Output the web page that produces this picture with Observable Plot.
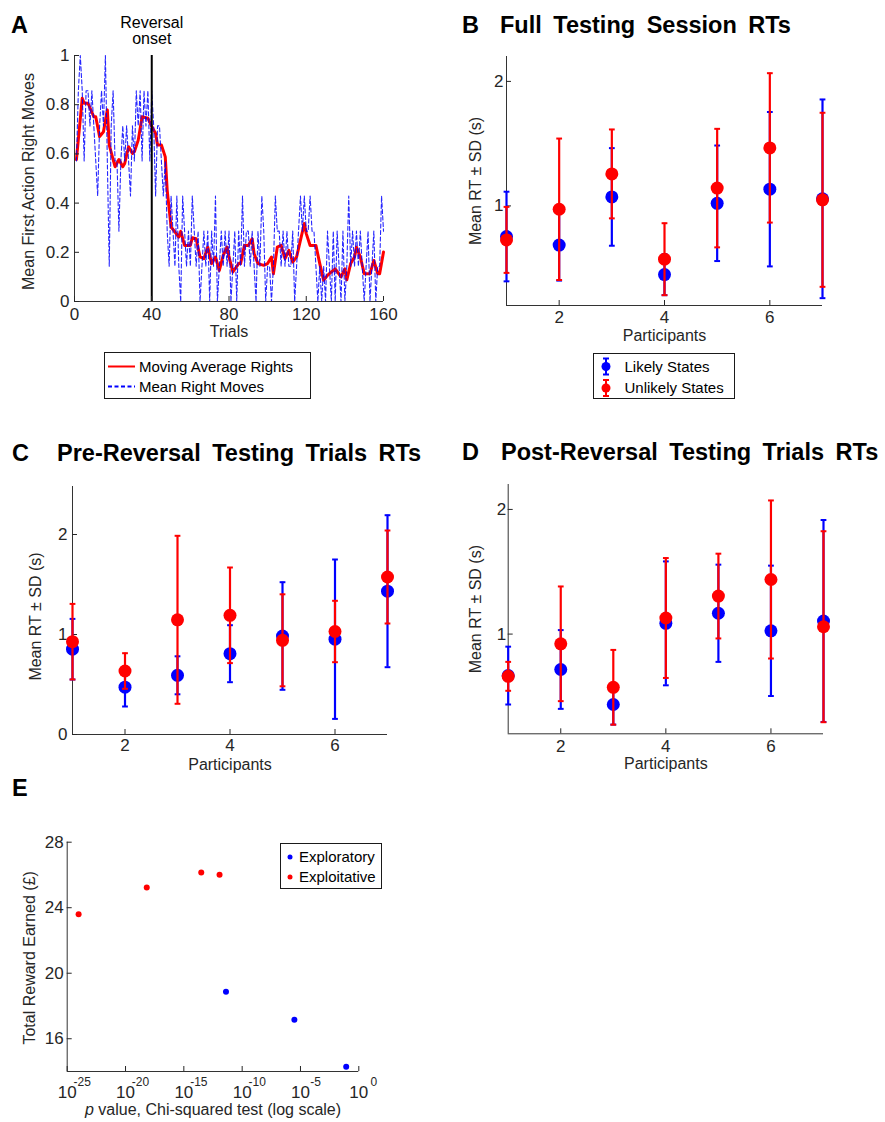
<!DOCTYPE html>
<html>
<head>
<meta charset="utf-8">
<script src="https://cdn.jsdelivr.net/npm/d3@7"></script>
<script src="https://cdn.jsdelivr.net/npm/@observablehq/plot@0.6"></script>
<style>
  html, body { margin: 0; padding: 0; background: #fff; }
  #figure { position: relative; width: 885px; height: 1122px; overflow: hidden;
    font-family: "Liberation Sans", Arial, Helvetica, sans-serif; color: #262626; }
  #figure > svg, #figure > .txt { position: absolute; }
  .txt { line-height: 1; white-space: pre; }
  .head { font-weight: bold; color: #000; word-spacing: 5px; }
</style>
</head>
<body>
<div id="figure"></div>
<script>
// ---------------- Panel A: first-action right moves across trials ----------------
const trialDomain = [0, 160];
const trialTicks = [0, 40, 80, 120, 160];
const rightDomain = [0, 1];
const rightTicks = [0, 0.2, 0.4, 0.6, 0.8, 1];
const reversalTrial = 40;
const reversalLabel = "Reversal\nonset";

// Mean proportion of right first moves on each trial (trials 1..160)
const meanRightMoves = [
  0.571,0.857,1,0.857,0.571,0.857,0.857,0.714,0.857,0.714,
  0.571,0.429,0.714,0.857,0.714,1,0.571,0.143,0.714,0.857,
  0.571,0.571,0.286,0.571,0.714,0.571,0.714,0.571,0.429,0.714,
  0.571,0.857,0.714,0.857,0.571,0.857,0.714,0.857,0.571,0.857,
  0.714,0.429,0.714,0.714,0.571,0.429,0.571,0.286,0.143,0.429,
  0.286,0.143,0.429,0.143,0,0.429,0.286,0.143,0.286,0.143,
  0.429,0.286,0.143,0.286,0,0.143,0.286,0.143,0.286,0,
  0.286,0.143,0.429,0,0.143,0.286,0.143,0.286,0.143,0.286,
  0,0.143,0.286,0,0.286,0.143,0.429,0.143,0.286,0.286,
  0.143,0.286,0.143,0,0.286,0.143,0.429,0.286,0,0.143,
  0.143,0,0.143,0.429,0.286,0.286,0.143,0.286,0.143,0.286,
  0.143,0.143,0.286,0,0.143,0.286,0.429,0.286,0.429,0.286,
  0.286,0.429,0.286,0.286,0.143,0,0.143,0,0.143,0,
  0.286,0.143,0,0.286,0,0.286,0.143,0,0.286,0,
  0.143,0.429,0.143,0.286,0.143,0.286,0.143,0.286,0.143,0,
  0.143,0.286,0,0.143,0.286,0,0.143,0.143,0.429,0.286
];

// Moving average of right moves
const maTrial = [1,4,5,7,10,11,13,15,17,18,21,23,25,26,28,30,31,33,35,38,40,42,43,45,47,48,50,52,54,55,57,60,61,63,65,67,69,71,73,75,77,79,80,82,85,86,88,90,92,93,95,98,100,102,103,105,107,109,111,113,115,116,119,120,122,125,127,129,131,133,135,138,140,141,143,145,146,148,150,153,155,157,158,160];
const maValue = [0.577,0.826,0.806,0.806,0.751,0.751,0.670,0.690,0.779,0.636,0.548,0.577,0.548,0.561,0.629,0.602,0.609,0.656,0.751,0.745,0.711,0.683,0.636,0.636,0.588,0.452,0.303,0.283,0.262,0.285,0.228,0.228,0.259,0.255,0.181,0.174,0.221,0.154,0.181,0.126,0.188,0.221,0.181,0.120,0.154,0.154,0.228,0.228,0.255,0.194,0.154,0.147,0.154,0.181,0.113,0.221,0.228,0.174,0.208,0.160,0.181,0.215,0.317,0.276,0.228,0.228,0.154,0.086,0.106,0.120,0.133,0.100,0.133,0.088,0.154,0.181,0.221,0.181,0.113,0.113,0.167,0.113,0.113,0.201];

// ---------------- Panels B–D: reaction times per participant ----------------
const participants = [1, 2, 3, 4, 5, 6, 7];
const participantTicks = [2, 4, 6];

const fullLikelyMean   = [0.754, 0.685, 1.072, 0.448, 1.021, 1.134, 1.057];
const fullLikelySD     = [0.360, 0.285, 0.392, 0.165, 0.464, 0.620, 0.798];
const fullUnlikelyMean = [0.727, 0.973, 1.257, 0.572, 1.143, 1.466, 1.049];
const fullUnlikelySD   = [0.265, 0.568, 0.357, 0.289, 0.476, 0.600, 0.699];

const preLikelyMean   = [0.853, 0.473, 0.592, 0.808, 0.985, 0.953, 1.433];
const preLikelySD     = [0.303, 0.193, 0.190, 0.285, 0.538, 0.797, 0.760];
const preUnlikelyMean = [0.928, 0.635, 1.147, 1.192, 0.942, 1.030, 1.575];
const preUnlikelySD   = [0.378, 0.178, 0.840, 0.478, 0.460, 0.307, 0.465];

const postLikelyMean   = [0.667, 0.716, 0.435, 1.086, 1.167, 1.026, 1.105];
const postLikelySD     = [0.232, 0.316, 0.161, 0.497, 0.390, 0.523, 0.810];
const postUnlikelyMean = [0.661, 0.922, 0.573, 1.129, 1.305, 1.438, 1.059];
const postUnlikelySD   = [0.116, 0.460, 0.300, 0.481, 0.340, 0.634, 0.766];

const rtDomainFull = [0.2, 2.2];
const rtDomainPre = [0, 2.48];
const rtTicksFull = [1, 2];
const rtTicksPre = [0, 1, 2];

// ---------------- Panel E: reward vs. chi-squared p value ----------------
const exploratoryP = [4.1e-12, 3.0e-6, 0.083];
const exploratoryReward = [18.87, 17.16, 14.29];
const exploitativeP = [9.5e-25, 6.6e-19, 3.1e-14, 1.15e-12];
const exploitativeReward = [23.6, 25.23, 26.15, 26.02];
const pDomain = [1e-25, 1];
const pTicks = [1e-25, 1e-20, 1e-15, 1e-10, 1e-5, 1];
const rewardDomain = [14, 28];
const rewardTicks = [16, 20, 24, 28];

// ---------------- drawing ----------------
const FONT = '"Liberation Sans", Arial, Helvetica, sans-serif';
const INK = "#262626";
const SPINE = "#333333";
const BLUE = "#0000ff";
const RED = "#ff0000";
const CAP = 0.055; // half-width of error-bar caps, in participant units
const fig = document.getElementById("figure");

function place(node, left, top) {
  node.style.left = left + "px";
  node.style.top = top + "px";
  fig.appendChild(node);
  return node;
}

function addText(str, x, baseline, size, cls) {
  const d = document.createElement("div");
  d.className = "txt " + (cls || "");
  d.textContent = str;
  d.style.fontSize = size + "px";
  return place(d, x, baseline - 0.8465 * size);
}

const plotStyle = {fontFamily: FONT, fontSize: "17px", color: INK, background: "transparent", overflow: "visible"};

// vertical axis title centred on the left edge of the frame
const yTitle = (str, dx, dy, size) =>
  Plot.text([str], {text: d => d, frameAnchor: "left", textAnchor: "middle", lineAnchor: "middle", rotate: -90, dx, dy: dy || 0, fontSize: size});
// horizontal axis title centred below the frame
const xTitle = (str, dy) =>
  Plot.text([str], {text: d => d, frameAnchor: "bottom", textAnchor: "middle", lineAnchor: "bottom", dy, fontSize: 16});

// Panel A
const rightRows = meanRightMoves.map((v, i) => ({trial: i + 1, v}));
const maRows = maTrial.map((t, i) => ({trial: t, v: maValue[i]}));
const plotA = Plot.plot({
  width: 430, height: 345,
  marginLeft: 74, marginRight: 47, marginTop: 55, marginBottom: 44,
  style: plotStyle,
  x: {domain: trialDomain},
  y: {domain: rightDomain},
  marks: [
    Plot.line(maRows, {x: "trial", y: "v", stroke: RED, strokeWidth: 3}),
    Plot.line(rightRows, {x: "trial", y: "v", stroke: BLUE, strokeWidth: 1.1, strokeDasharray: "4,2.5", strokeOpacity: 0.85}),
    Plot.ruleX([reversalTrial], {stroke: "#000", strokeWidth: 2}),
    Plot.text([reversalLabel], {x: () => reversalTrial, text: d => d, frameAnchor: "top", textAnchor: "middle", dy: -12, lineAnchor: "bottom", fontSize: 16, fill: "#000"}),
    Plot.ruleX([trialDomain[0]], {stroke: SPINE}),
    Plot.ruleY([rightDomain[0]], {stroke: SPINE}),
    Plot.axisX({ticks: trialTicks, tickSize: -5, tickPadding: 11.5, tickFormat: d => String(d), label: null}),
    Plot.axisY({ticks: rightTicks, tickSize: -5, tickPadding: 10, tickFormat: d => String(d), label: null}),
    xTitle("Trials", 35.5),
    yTitle("Mean First Action Right Moves", -45.5, 3, 16)
  ]
});
place(plotA, 0, 0);

// Panels B–D
function rtPanel(cfg) {
  const rows = (m, s) => participants.map((p, i) => ({p, mean: m[i], lo: m[i] - s[i], hi: m[i] + s[i]}));
  const marks = [];
  for (const [data, color] of [[rows(cfg.likelyMean, cfg.likelySD), BLUE], [rows(cfg.unlikelyMean, cfg.unlikelySD), RED]]) {
    marks.push(
      Plot.ruleX(data, {x: "p", y1: "lo", y2: "hi", stroke: color, strokeWidth: 2.2}),
      Plot.link(data, {x1: d => d.p - CAP, x2: d => d.p + CAP, y1: "lo", y2: "lo", stroke: color, strokeWidth: 2}),
      Plot.link(data, {x1: d => d.p - CAP, x2: d => d.p + CAP, y1: "hi", y2: "hi", stroke: color, strokeWidth: 2}),
      Plot.dot(data, {x: "p", y: "mean", r: 6.5, fill: color})
    );
  }
  const xDomain = [participants[0], participants[participants.length - 1]];
  const p = Plot.plot({
    width: cfg.width, height: 345,
    marginLeft: cfg.ml, marginRight: cfg.mr, marginTop: cfg.mt, marginBottom: cfg.mb,
    style: plotStyle,
    x: {domain: xDomain},
    y: {domain: cfg.yDomain},
    marks: [
      Plot.ruleX([xDomain[0]], {stroke: SPINE}),
      Plot.ruleY([cfg.yDomain[0]], {stroke: SPINE}),
      Plot.axisX({ticks: participantTicks, tickSize: -5, tickPadding: cfg.xPad, tickFormat: d => String(d), label: null}),
      Plot.axisY({ticks: cfg.yTicks, tickSize: -5, tickPadding: cfg.yPad, tickFormat: d => String(d), label: null}),
      ...marks,
      xTitle("Participants", 35),
      yTitle("Mean RT \u00b1 SD (s)", cfg.labelDx, cfg.labelDy, 16)
    ]
  });
  return place(p, cfg.left, cfg.top);
}

rtPanel({left: 440, top: 0, width: 445, ml: 66, mr: 63, mt: 56, mb: 40, xPad: 10, yPad: 8, labelDx: -30.5, labelDy: 0,
  yDomain: rtDomainFull, yTicks: rtTicksFull,
  likelyMean: fullLikelyMean, likelySD: fullLikelySD, unlikelyMean: fullUnlikelyMean, unlikelySD: fullUnlikelySD});
rtPanel({left: 0, top: 430, width: 440, ml: 72, mr: 53, mt: 56, mb: 41, xPad: 9.5, yPad: 10, labelDx: -36.5, labelDy: 6,
  yDomain: rtDomainPre, yTicks: rtTicksPre,
  likelyMean: preLikelyMean, likelySD: preLikelySD, unlikelyMean: preUnlikelyMean, unlikelySD: preUnlikelySD});
rtPanel({left: 440, top: 430, width: 445, ml: 67.7, mr: 62, mt: 54, mb: 41.7, xPad: 11, yPad: 7, labelDx: -32.7, labelDy: 0,
  yDomain: rtDomainFull, yTicks: rtTicksFull,
  likelyMean: postLikelyMean, likelySD: postLikelySD, unlikelyMean: postUnlikelyMean, unlikelySD: postUnlikelySD});

// Panel E
const exploratory = exploratoryP.map((p, i) => ({p, reward: exploratoryReward[i]}));
const exploitative = exploitativeP.map((p, i) => ({p, reward: exploitativeReward[i]}));
const plotE = Plot.plot({
  width: 440, height: 342,
  marginLeft: 66.7, marginRight: 81.7, marginTop: 61.7, marginBottom: 51,
  style: plotStyle,
  x: {type: "log", domain: pDomain},
  y: {domain: rewardDomain},
  marks: [
    Plot.ruleX([pDomain[0]], {stroke: SPINE}),
    Plot.ruleY([rewardDomain[0]], {stroke: SPINE}),
    Plot.axisX({ticks: pTicks, tickSize: -5, tickFormat: () => "", label: null}),
    Plot.axisY({ticks: rewardTicks, tickSize: -5, tickPadding: 8.5, tickFormat: d => String(d), label: null}),
    Plot.text(pTicks, {x: d => d, text: () => "10", frameAnchor: "bottom", textAnchor: "middle", dy: 26, lineAnchor: "bottom", fontSize: 17}),
    Plot.text(pTicks, {x: d => d, text: d => String(Math.round(Math.log10(d))), frameAnchor: "bottom", textAnchor: "middle", dy: 14.5, dx: 15, lineAnchor: "bottom", fontSize: 12}),
    Plot.dot(exploitative, {x: "p", y: "reward", r: 3, fill: RED}),
    Plot.dot(exploratory, {x: "p", y: "reward", r: 3, fill: BLUE}),
    yTitle("Total Reward Earned (\u00a3)", -37, 1, 16)
  ]
});
place(plotE, 0, 780);

// x label of panel E with italic p
const eLabel = document.createElement("div");
eLabel.className = "txt";
eLabel.style.fontSize = "16px";
eLabel.style.transform = "translateX(-50%)";
eLabel.innerHTML = "<i>p</i> value, Chi-squared test (log scale)";
place(eLabel, 213, 1116 - 0.8465 * 16);

// Panel letters and titles
addText("A", 11, 33.5, 23.5, "head");
addText("B", 462, 33.5, 23.5, "head");
addText("Full Testing Session RTs", 500, 33.5, 23.5, "head");
addText("C", 12, 462, 23.5, "head");
addText("Pre-Reversal Testing Trials RTs", 57, 462, 23.5, "head");
addText("D", 462, 461, 23.5, "head");
addText("Post-Reversal Testing Trials RTs", 501, 461, 23.5, "head");
addText("E", 12, 797, 23.5, "head");

// Legends
function legendBox(left, top, w, h) {
  const svg = d3.create("svg").attr("width", w).attr("height", h)
    .style("overflow", "visible").style("font-family", FONT).style("font-size", "15px");
  svg.append("rect").attr("x", 0.5).attr("y", 0.5).attr("width", w - 1).attr("height", h - 1)
    .attr("fill", "#fff").attr("stroke", "#1a1a1a");
  place(svg.node(), left, top);
  return svg;
}
function legendLabel(svg, x, y, str) {
  svg.append("text").attr("x", x).attr("y", y).attr("dy", "0.35em").attr("fill", "#000").text(str);
}

const legA = legendBox(104, 352, 207, 47);
legA.append("line").attr("x1", 4).attr("x2", 31).attr("y1", 14.5).attr("y2", 14.5).attr("stroke", RED).attr("stroke-width", 2);
legA.append("line").attr("x1", 4).attr("x2", 31).attr("y1", 34.5).attr("y2", 34.5).attr("stroke", BLUE).attr("stroke-width", 2).attr("stroke-dasharray", "4,2.5");
legendLabel(legA, 35, 14.5, "Moving Average Rights");
legendLabel(legA, 35, 34.5, "Mean Right Moves");

const legB = legendBox(593, 353, 142, 46);
[[13.5, BLUE, "Likely States"], [35, RED, "Unlikely States"]].forEach(([y, c, s]) => {
  const g = legB.append("g").attr("stroke", c).attr("stroke-width", 2);
  g.append("line").attr("x1", 13).attr("x2", 13).attr("y1", y - 8).attr("y2", y + 8);
  g.append("line").attr("x1", 10).attr("x2", 16).attr("y1", y - 8).attr("y2", y - 8);
  g.append("line").attr("x1", 10).attr("x2", 16).attr("y1", y + 8).attr("y2", y + 8);
  legB.append("circle").attr("cx", 13).attr("cy", y).attr("r", 4.5).attr("fill", c);
  legendLabel(legB, 31.5, y, s);
});

const legE = legendBox(280, 843, 102, 46);
[[14, BLUE, "Exploratory"], [34, RED, "Exploitative"]].forEach(([y, c, s]) => {
  legE.append("circle").attr("cx", 10).attr("cy", y).attr("r", 2.5).attr("fill", c);
  legendLabel(legE, 19, y, s);
});
</script>
</body>
</html>
